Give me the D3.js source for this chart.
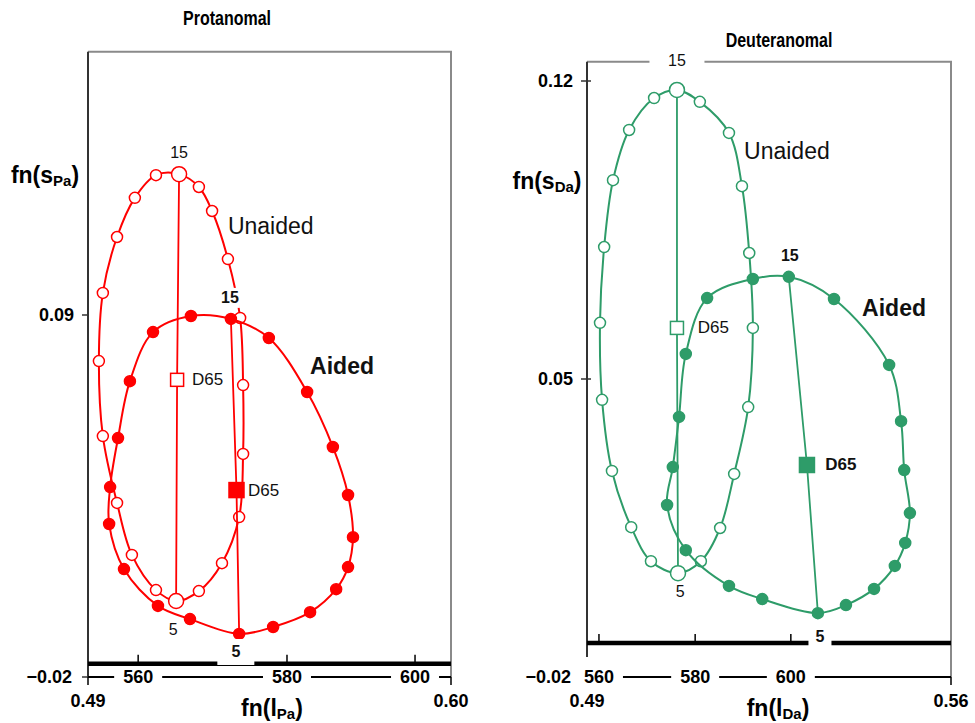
<!DOCTYPE html>
<html>
<head>
<meta charset="utf-8">
<script src="https://cdn.jsdelivr.net/npm/d3@7"></script>
<style>
  body { margin: 0; background: #fff; }
  text { font-family: "Liberation Sans", Arial, sans-serif; }
</style>
</head>
<body>
<svg id="chart" width="975" height="723"></svg>
<script>
// hue sample index (20 per loop), 5 and 15 are the labelled ends of the chord
const hueIndex = d3.range(1, 21);

// Protanomal, fn(l_Pa) / fn(s_Pa)
const protUnaidedL = [0.4945, 0.4988, 0.5033, 0.5106, 0.5167, 0.5236, 0.5306, 0.5358, 0.5370, 0.5370,
  0.5361, 0.5324, 0.5276, 0.5236, 0.5176, 0.5106, 0.5042, 0.4988, 0.4945, 0.4933];
const protUnaidedS = [0.0532, 0.0329, 0.0171, 0.0064, 0.0031, 0.0061, 0.0146, 0.0286, 0.0478, 0.0687,
  0.0891, 0.1070, 0.1216, 0.1289, 0.1328, 0.1325, 0.1256, 0.1137, 0.0967, 0.0760];
const protAidedL = [0.4964, 0.5009, 0.5112, 0.5209, 0.5358, 0.5461, 0.5573, 0.5652, 0.5688, 0.5703,
  0.5688, 0.5642, 0.5564, 0.5448, 0.5333, 0.5212, 0.5097, 0.5027, 0.4991, 0.4967];
const protAidedS = [0.0265, 0.0128, 0.0016, -0.0024, -0.0069, -0.0048, -0.0003, 0.0067, 0.0134, 0.0225,
  0.0353, 0.0499, 0.0666, 0.0830, 0.0888, 0.0897, 0.0848, 0.0699, 0.0526, 0.0377];
const protD65 = { unaided: [0.5170, 0.0703], aided: [0.5350, 0.0368] };

// Deuteranomal, fn(l_Da) / fn(s_Da)
const deutUnaidedL = [0.4929, 0.4948, 0.4985, 0.5023, 0.5075, 0.5119, 0.5156, 0.5183, 0.5210, 0.5219,
  0.5212, 0.5198, 0.5173, 0.5117, 0.5073, 0.5029, 0.4981, 0.4950, 0.4933, 0.4925];
const deutUnaidedS = [0.0451, 0.0284, 0.0152, 0.0072, 0.0044, 0.0072, 0.0150, 0.0277, 0.0434, 0.0620,
  0.0796, 0.0953, 0.1078, 0.1151, 0.1179, 0.1160, 0.1085, 0.0967, 0.0810, 0.0632];
const deutAidedL = [0.5054, 0.5090, 0.5173, 0.5237, 0.5344, 0.5398, 0.5452, 0.5492, 0.5512, 0.5521,
  0.5510, 0.5504, 0.5481, 0.5375, 0.5288, 0.5219, 0.5131, 0.5090, 0.5077, 0.5065];
const deutAidedS = [0.0204, 0.0098, 0.0014, -0.0017, -0.0050, -0.0031, 0.0007, 0.0061, 0.0115, 0.0185,
  0.0286, 0.0401, 0.0533, 0.0688, 0.0740, 0.0735, 0.0690, 0.0559, 0.0411, 0.0293];
const deutD65 = { unaided: [0.5073, 0.0620], aided: [0.5323, 0.0298] };

// wavelength scale (nm) and where each sits on fn(l)
const waveLabels = [560, 580, 600];
const protWaveAt = [0.5052, 0.5503, 0.5891];
const deutWaveAt = [0.4923, 0.5108, 0.5292];

const protYTicks = [0.09, -0.02];
const deutYTicks = [0.12, 0.05, -0.02];

const svg = d3.select("#chart");

const panels = [
  {
    title: "Protanomal", titleX: 227, titleY: 18,
    color: "#ff0000",
    xDomain: [0.49, 0.60], xRange: [88, 451],
    yDomain: [-0.02, 0.09], yRange: [677, 315],
    yTop: 0.17, axisBottom: -0.02, waveY: -0.016,
    yTicks: protYTicks, crossTicks: false,
    waveAt: protWaveAt,
    xSub: "Pa", xLabelX: 272, ySub: "Pa", yLabelX: 45, yLabelY: 175,
    unaided: { l: protUnaidedL, s: protUnaidedS }, aided: { l: protAidedL, s: protAidedS },
    d65: protD65,
    labels: [
      { t: "15", at: [0.5176, 0.1395], size: 16 },
      { t: "5", at: [0.5158, -0.0057], size: 16 },
      { t: "15", at: [0.5330, 0.0952], size: 16, bold: true, gap: [20, 20] },
      { t: "5", at: [0.5348, -0.0124], size: 16, bold: true, gap: [37, 26] },
      { t: "D65", at: [0.5215, 0.0703], size: 17, anchor: "start" },
      { t: "D65", at: [0.5385, 0.0368], size: 17, anchor: "start" },
      { t: "Unaided", at: [0.5324, 0.1170], size: 23, anchor: "start" },
      { t: "Aided", at: [0.5573, 0.0745], size: 23, bold: true, anchor: "start" }
    ]
  },
  {
    title: "Deuteranomal", titleX: 779, titleY: 40,
    color: "#2e9c69",
    xDomain: [0.49, 0.56], xRange: [587, 951],
    yDomain: [-0.02, 0.12], yRange: [677, 81],
    yTop: 0.1245, axisBottom: -0.0153, waveY: -0.012,
    yTicks: deutYTicks, crossTicks: true,
    waveAt: deutWaveAt,
    xSub: "Da", xLabelX: 778, ySub: "Da", yLabelX: 547, yLabelY: 181,
    unaided: { l: deutUnaidedL, s: deutUnaidedS }, aided: { l: deutAidedL, s: deutAidedS },
    d65: deutD65,
    labels: [
      { t: "15", at: [0.5073, 0.1247], size: 16, gap: [55, 18] },
      { t: "5", at: [0.5079, 0.0], size: 16 },
      { t: "15", at: [0.5290, 0.0789], size: 16, bold: true },
      { t: "5", at: [0.5348, -0.0104], size: 16, bold: true, gap: [23, 24] },
      { t: "D65", at: [0.5113, 0.0620], size: 17, anchor: "start" },
      { t: "D65", at: [0.5358, 0.0298], size: 17, bold: true, anchor: "start" },
      { t: "Unaided", at: [0.5202, 0.1036], size: 23, anchor: "start" },
      { t: "Aided", at: [0.5429, 0.0667], size: 23, bold: true, anchor: "start" }
    ]
  }
];

panels.forEach(p => drawPanel(p));

function drawPanel(p) {
  const x = d3.scaleLinear().domain(p.xDomain).range(p.xRange);
  const y = d3.scaleLinear().domain(p.yDomain).range(p.yRange);
  const g = svg.append("g");
  const [x0, x1] = p.xDomain;
  const yBot = p.yDomain[0];

  // title (condensed look)
  g.append("text")
    .attr("transform", `translate(${p.titleX},${p.titleY}) scale(0.8,1)`)
    .attr("text-anchor", "middle").attr("dominant-baseline", "central")
    .style("font-weight", "bold").style("font-size", "20px")
    .text(p.title);

  // frame: gray top + right, dark left axis
  g.append("path")
    .attr("d", `M${x(x0)},${y(p.yTop)}H${x(x1)}V${y(yBot)}`)
    .attr("fill", "none").attr("stroke", "#8a8a8a").attr("stroke-width", 2);
  g.append("line")
    .attr("x1", x(x0)).attr("x2", x(x0))
    .attr("y1", y(p.yTop)).attr("y2", y(p.axisBottom))
    .attr("stroke", "#333").attr("stroke-width", 2);

  // y ticks
  p.yTicks.forEach(v => {
    g.append("line")
      .attr("x1", x(x0) - 6).attr("x2", x(x0) + (p.crossTicks ? 4 : 0))
      .attr("y1", y(v)).attr("y2", y(v))
      .attr("stroke", "#333").attr("stroke-width", 1.5);
    g.append("text")
      .attr("x", x(x0) - (v === yBot ? 16 : 14)).attr("y", y(v))
      .attr("text-anchor", "end").attr("dominant-baseline", "central")
      .style("font-weight", "bold").style("font-size", "18px")
      .text(d3.format(".2f")(v));
  });

  // bottom thin axis (y = -0.02)
  g.append("line")
    .attr("x1", x(x0)).attr("x2", x(x1))
    .attr("y1", y(yBot)).attr("y2", y(yBot))
    .attr("stroke", "#000").attr("stroke-width", 2);
  [x0, x1].forEach(v => {
    g.append("line")
      .attr("x1", x(v)).attr("x2", x(v))
      .attr("y1", y(yBot)).attr("y2", y(yBot) + 8)
      .attr("stroke", "#000").attr("stroke-width", 1.5);
    g.append("text")
      .attr("x", x(v)).attr("y", y(yBot) + 24)
      .attr("text-anchor", "middle").attr("dominant-baseline", "central")
      .style("font-weight", "bold").style("font-size", "18px")
      .text(d3.format(".2f")(v));
  });

  // wavelength line (thick) with up-ticks
  g.append("line")
    .attr("x1", x(x0)).attr("x2", x(x1))
    .attr("y1", y(p.waveY)).attr("y2", y(p.waveY))
    .attr("stroke", "#000").attr("stroke-width", 4.5);
  p.waveAt.forEach((v, i) => {
    g.append("line")
      .attr("x1", x(v)).attr("x2", x(v))
      .attr("y1", y(p.waveY)).attr("y2", y(p.waveY) - 9)
      .attr("stroke", "#000").attr("stroke-width", 1.5);
    g.append("rect")
      .attr("x", x(v) - 24).attr("y", y(yBot) - 10)
      .attr("width", 48).attr("height", 20)
      .attr("fill", "#fff");
    g.append("text")
      .attr("x", x(v)).attr("y", y(yBot))
      .attr("text-anchor", "middle").attr("dominant-baseline", "central")
      .style("font-weight", "bold").style("font-size", "18px")
      .text(waveLabels[i]);
  });

  // axis titles
  const xt = g.append("text")
    .attr("x", p.xLabelX).attr("y", y(yBot) + 31)
    .attr("text-anchor", "middle").attr("dominant-baseline", "central")
    .style("font-weight", "bold").style("font-size", "23px");
  xt.append("tspan").text("fn(l");
  xt.append("tspan").attr("dy", 5).style("font-size", "15px").text(p.xSub);
  xt.append("tspan").attr("dy", -5).text(")");

  const yt = g.append("text")
    .attr("x", p.yLabelX).attr("y", p.yLabelY)
    .attr("text-anchor", "middle").attr("dominant-baseline", "central")
    .style("font-weight", "bold").style("font-size", "23px");
  yt.append("tspan").text("fn(s");
  yt.append("tspan").attr("dy", 5).style("font-size", "15px").text(p.ySub);
  yt.append("tspan").attr("dy", -5).text(")");

  const line = d3.line()
    .x(d => x(d[0])).y(d => y(d[1]))
    .curve(d3.curveCatmullRomClosed.alpha(0.5));

  ["unaided", "aided"].forEach(kind => {
    const pts = hueIndex.map((h, i) => [p[kind].l[i], p[kind].s[i], h]);
    const p5 = pts[4], p15 = pts[14];
    const d65 = p.d65[kind];

    g.append("path")
      .attr("d", line(pts))
      .attr("fill", "none").attr("stroke", p.color).attr("stroke-width", 2);

    // chord 15 -> 5 through D65
    g.append("path")
      .attr("d", d3.line().x(d => x(d[0])).y(d => y(d[1]))([p15, d65, p5]))
      .attr("fill", "none").attr("stroke", p.color).attr("stroke-width", 1.8);

    g.selectAll(null).data(pts).join("circle")
      .attr("cx", d => x(d[0])).attr("cy", d => y(d[1]))
      .attr("r", d => kind === "unaided" && (d[2] === 5 || d[2] === 15) ? 7.5 : 5.5)
      .attr("fill", kind === "unaided" ? "#fff" : p.color)
      .attr("stroke", p.color).attr("stroke-width", 1.5);

    const sq = kind === "unaided" ? 13 : 15;
    g.append("rect")
      .attr("x", x(d65[0]) - sq / 2).attr("y", y(d65[1]) - sq / 2)
      .attr("width", sq).attr("height", sq)
      .attr("fill", kind === "unaided" ? "#fff" : p.color)
      .attr("stroke", p.color).attr("stroke-width", 1.5);
  });

  // annotations
  p.labels.forEach(lb => {
    const px = x(lb.at[0]), py = y(lb.at[1]);
    if (lb.gap) {
      g.append("rect")
        .attr("x", px - lb.gap[0] / 2).attr("y", py - lb.gap[1] / 2)
        .attr("width", lb.gap[0]).attr("height", lb.gap[1])
        .attr("fill", "#fff");
    }
    g.append("text")
      .attr("x", px).attr("y", py)
      .attr("text-anchor", lb.anchor || "middle").attr("dominant-baseline", "central")
      .style("font-weight", lb.bold ? "bold" : "normal")
      .style("font-size", lb.size + "px")
      .attr("fill", "#111")
      .text(lb.t);
  });
}
</script>
</body>
</html>
